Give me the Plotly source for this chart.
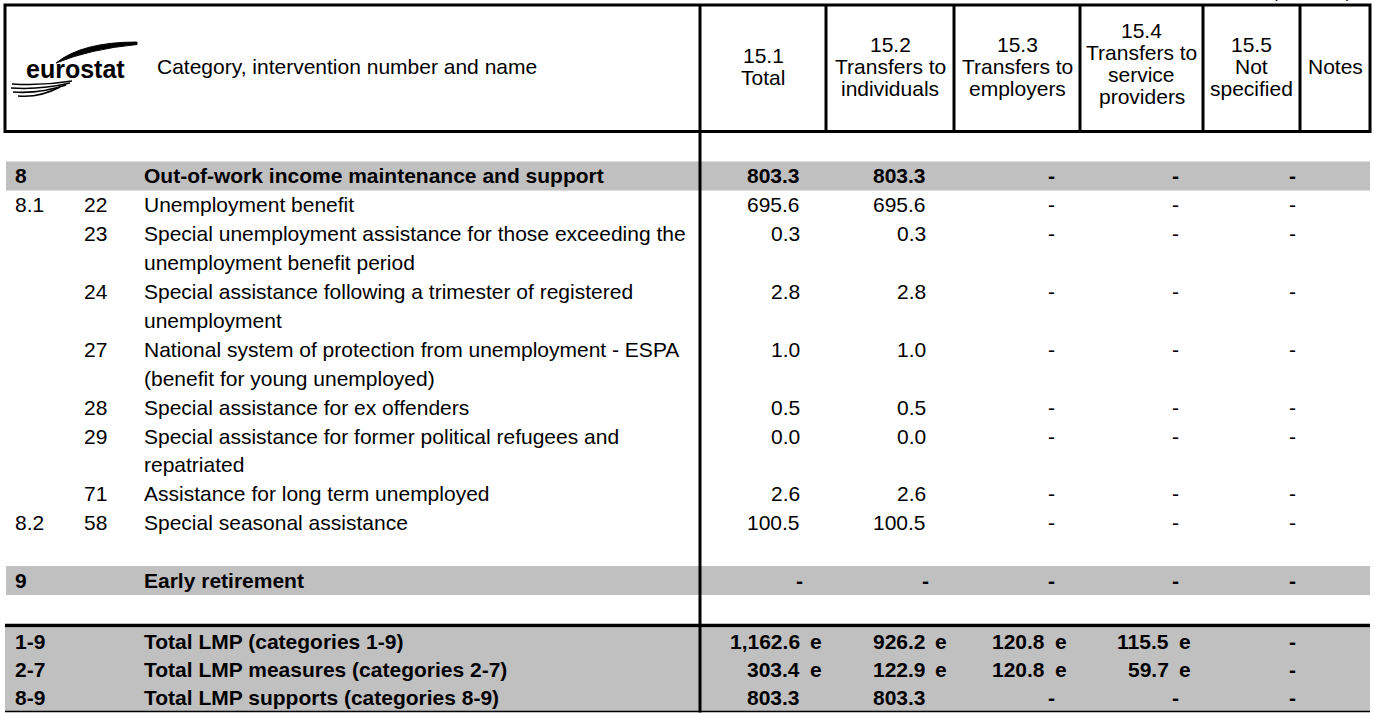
import plotly.graph_objects as go

W, H = 1374, 713

# ---------------- data ----------------
codes = ["8", "8.1", "", "", "", "", "", "", "8.2", "9"]
interventions = ["", "22", "23", "24", "27", "28", "29", "71", "58", ""]
names = [
    ["Out-of-work income maintenance and support"],
    ["Unemployment benefit"],
    ["Special unemployment assistance for those exceeding the", "unemployment benefit period"],
    ["Special assistance following a trimester of registered", "unemployment"],
    ["National system of protection from unemployment - ESPA", "(benefit for young unemployed)"],
    ["Special assistance for ex offenders"],
    ["Special assistance for former political refugees and", "repatriated"],
    ["Assistance for long term unemployed"],
    ["Special seasonal assistance"],
    ["Early retirement"],
]
bold_rows = [True, False, False, False, False, False, False, False, False, True]
total_vals = [803.3, 695.6, 0.3, 2.8, 1.0, 0.5, 0.0, 2.6, 100.5, None]
individuals_vals = [803.3, 695.6, 0.3, 2.8, 1.0, 0.5, 0.0, 2.6, 100.5, None]
employers_vals = [None] * 10
service_vals = [None] * 10
notspec_vals = [None] * 10

tot_codes = ["1-9", "2-7", "8-9"]
tot_names = ["Total LMP (categories 1-9)",
             "Total LMP measures (categories 2-7)",
             "Total LMP supports (categories 8-9)"]
tot_total = [1162.6, 303.4, 803.3]
tot_individuals = [926.2, 122.9, 803.3]
tot_employers = [120.8, 120.8, None]
tot_service = [115.5, 59.7, None]
tot_notspec = [None, None, None]
tot_flags = [["e", "e", "e", "e", ""],
             ["e", "e", "e", "e", ""],
             ["", "", "", "", ""]]

header_cols = [
    ["15.1", "Total"],
    ["15.2", "Transfers to", "individuals"],
    ["15.3", "Transfers to", "employers"],
    ["15.4", "Transfers to", "service", "providers"],
    ["15.5", "Not", "specified"],
    ["Notes"],
]
header_title = "Category, intervention number and name"
unit_label = "(Mio EUR)"

# ---------------- layout constants ----------------
FONT = "Liberation Sans, Arial, sans-serif"
FS = 21
GREY = "#C0C0C0"
LEFT, RIGHT = 5, 1370
HEAD_TOP, HEAD_BOT = 5, 131.5
col_edges = [700, 826, 954, 1080, 1203, 1300, RIGHT]
num_right = [802, 927.5, 1047, 1171, 1288]
dash_x = [799, 925, 1051, 1175, 1292]
X_CODE, X_INT, X_NAME = 12.5, 81.5, 141.5
LINE_H = 28.9
BODY_TOP = 161.5
THICK_Y = 625.5
TOT_TOP = 627.5
TOT_LINE = 28.1
BOTTOM_Y = 711.5

fig = go.Figure()
ann = []
shapes = []


def txt(x, y, s, anchor="left", bold=False, size=FS):
    ann.append(dict(x=x, y=y, xref="x", yref="y", text=f"<b>{s}</b>" if bold else s,
                    showarrow=False, xanchor=anchor, yanchor="middle",
                    font=dict(family=FONT, size=size, color="black")))


def cell_value(ci, yc, v, bold, flag=""):
    if v is None:
        txt(dash_x[ci], yc, "-", "center", bold)
    else:
        txt(num_right[ci], yc, f"{v:,.1f}", "right", bold)
        if flag:
            txt(num_right[ci] + 5.5, yc, flag, "left", bold)


# ---------------- body rows ----------------
line = 0
cols = [total_vals, individuals_vals, employers_vals, service_vals, notspec_vals]
for i in range(len(codes)):
    if i == 9:
        line += 1  # blank spacer line before category 9
    top = BODY_TOP + line * LINE_H
    n = len(names[i])
    if bold_rows[i]:
        shapes.append(dict(type="rect", xref="x", yref="y", x0=LEFT + 1, x1=RIGHT,
                           y0=top, y1=top + n * LINE_H, fillcolor=GREY,
                           line=dict(width=0), layer="below"))
    yc = top + LINE_H / 2
    b = bold_rows[i]
    if codes[i]:
        txt(X_CODE, yc, codes[i], "left", b)
    if interventions[i]:
        txt(X_INT, yc, interventions[i], "left", b)
    for k, nm in enumerate(names[i]):
        txt(X_NAME, yc + k * LINE_H, nm, "left", b)
    for ci, col in enumerate(cols):
        cell_value(ci, yc, col[i], b)
    line += n

# ---------------- totals ----------------
shapes.append(dict(type="rect", xref="x", yref="y", x0=LEFT, x1=RIGHT,
                   y0=TOT_TOP, y1=BOTTOM_Y, fillcolor=GREY, line=dict(width=0), layer="below"))
tcols = [tot_total, tot_individuals, tot_employers, tot_service, tot_notspec]
for j in range(len(tot_codes)):
    yc = TOT_TOP + TOT_LINE * (j + 0.5)
    txt(X_CODE, yc, tot_codes[j], "left", True)
    txt(X_NAME, yc, tot_names[j], "left", True)
    for ci, col in enumerate(tcols):
        cell_value(ci, yc, col[j], True, tot_flags[j][ci])

# ---------------- header ----------------
shapes.append(dict(type="rect", xref="x", yref="y", x0=LEFT, x1=RIGHT, y0=HEAD_TOP, y1=HEAD_BOT,
                   line=dict(color="black", width=3)))
for xe in col_edges[:-1]:
    shapes.append(dict(type="line", xref="x", yref="y", x0=xe, x1=xe, y0=HEAD_TOP, y1=HEAD_BOT,
                       line=dict(color="black", width=3)))
# body vertical separator
shapes.append(dict(type="line", xref="x", yref="y", x0=700, x1=700, y0=HEAD_BOT, y1=BOTTOM_Y + 1,
                   line=dict(color="black", width=3)))
shapes.append(dict(type="line", xref="x", yref="y", x0=LEFT, x1=RIGHT, y0=THICK_Y, y1=THICK_Y,
                   line=dict(color="black", width=3.5)))
shapes.append(dict(type="line", xref="x", yref="y", x0=LEFT, x1=RIGHT, y0=BOTTOM_Y, y1=BOTTOM_Y,
                   line=dict(color="black", width=1.7)))

HEAD_LINE = 22
HEAD_MID = 66
for ci, lines in enumerate(header_cols):
    xc = (col_edges[ci] + col_edges[ci + 1]) / 2
    n = len(lines)
    mid = HEAD_MID - (3 if n == 4 else 0)
    y0 = mid - (n - 1) * HEAD_LINE / 2
    for k, s in enumerate(lines):
        txt(xc, y0 + k * HEAD_LINE, s, "center")
txt(155, HEAD_MID, header_title, "left")

# unit label, mostly cut off at the top edge
ann.append(dict(x=1353, y=1, xref="x", yref="paper", text=unit_label, showarrow=False,
                xanchor="right", yanchor="middle", yshift=8,
                font=dict(family=FONT, size=17, color="black")))

# ---------------- logo ----------------
txt(24, 69, "eurostat", "left", True, 25)
shapes.append(dict(type="path", xref="x", yref="y",
                   path="M 56 63 Q 82 42 137 42 L 137 44.5 Q 90 49 56 63 Z",
                   fillcolor="black", line=dict(color="black", width=1)))
for (sx, sy, ex, ey) in [(12, 84, 72, 81), (11, 88, 70, 83), (13, 92, 66, 85), (18, 96, 60, 87)]:
    shapes.append(dict(type="path", xref="x", yref="y",
                       path=f"M {sx} {sy} Q {(sx + ex) / 2} {sy + 2} {ex} {ey}",
                       line=dict(color="black", width=1.6)))

fig.update_layout(
    width=W, height=H, margin=dict(l=0, r=0, t=0, b=0),
    paper_bgcolor="white", plot_bgcolor="white",
    xaxis=dict(range=[0, W], visible=False, fixedrange=True),
    yaxis=dict(range=[H, 0], visible=False, fixedrange=True),
    annotations=ann, shapes=shapes, showlegend=False,
)
fig.write_html(
    "out.html",
    config={"displayModeBar": False},
    post_script="document.body.style.margin='0';document.body.style.overflow='hidden';",
)
